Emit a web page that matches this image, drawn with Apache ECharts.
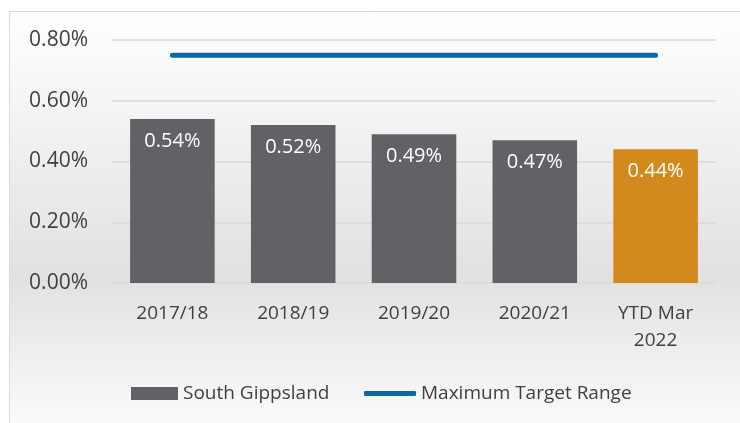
<!DOCTYPE html>
<html>
<head>
<meta charset="utf-8">
<script src="https://cdn.jsdelivr.net/npm/echarts@6/dist/echarts.min.js"></script>
<style>
  html, body { margin: 0; padding: 0; background: #fff; }
  #chart { width: 740px; height: 423px; }
</style>
</head>
<body>
<div id="chart"></div>
<script>
  // categories + values (percent)
  const categories = ['2017/18', '2018/19', '2019/20', '2020/21', 'YTD Mar\n2022'];
  const regionValues = [0.54, 0.52, 0.49, 0.47, 0.44];
  const targetValues = [0.75, 0.75, 0.75, 0.75, 0.75];

  const font = '"Open Sans", "Noto Sans", sans-serif';
  const grey = '#616266';
  const orange = '#d4891c';
  const blue = '#0a6aa8';
  const txt = '#404040';

  const chart = echarts.init(document.getElementById('chart'));
  chart.setOption({
    animation: false,
    textStyle: { fontFamily: font },
    graphic: [
      {
        type: 'rect',
        z: -10,
        shape: { x: 9.5, y: 11.5, width: 740, height: 420 },
        style: {
          fill: new echarts.graphic.LinearGradient(0, 0, 0, 1, [
            { offset: 0, color: '#ffffff' },
            { offset: 0.63, color: '#e1e1e1' },
            { offset: 1, color: '#fcfcfc' }
          ]),
          stroke: '#d9d9d9',
          lineWidth: 1
        }
      }
    ],
    grid: { left: 112, right: 24, top: 40, bottom: 140 },
    legend: [
      {
        left: 131,
        top: 384,
        padding: 0,
        itemWidth: 47,
        itemHeight: 13,
        itemGap: 4,
        textStyle: { fontSize: 19, color: txt, fontFamily: font },
        data: [{ name: 'South Gippsland', icon: 'rect', itemStyle: { color: grey } }]
      },
      {
        left: 364,
        top: 384,
        padding: 0,
        itemWidth: 52,
        itemHeight: 5,
        textStyle: { fontSize: 19, color: txt, fontFamily: font },
        data: [{ name: 'Maximum Target Range', icon: 'roundRect', itemStyle: { color: blue } }]
      }
    ],
    xAxis: {
      type: 'category',
      data: categories,
      axisLine: { show: false },
      axisTick: { show: false },
      axisLabel: { color: txt, fontSize: 19, margin: 17, lineHeight: 27, fontFamily: font }
    },
    yAxis: {
      type: 'value',
      min: 0,
      max: 0.8,
      interval: 0.2,
      axisLine: { show: false },
      axisTick: { show: false },
      splitLine: { lineStyle: { color: '#d9d9d9', width: 1.5 } },
      axisLabel: {
        color: txt, fontSize: 21, margin: 24, fontFamily: font,
        formatter: v => v.toFixed(2) + '%'
      }
    },
    series: [
      {
        name: 'South Gippsland',
        type: 'bar',
        barWidth: '70%',
        data: regionValues.map((v, i) => ({
          value: v,
          itemStyle: { color: i === regionValues.length - 1 ? orange : grey }
        })),
        label: {
          show: true,
          position: 'insideTop',
          distance: 12,
          color: '#ffffff',
          fontSize: 20,
          fontFamily: font,
          formatter: p => p.value.toFixed(2) + '%'
        }
      },
      {
        name: 'Maximum Target Range',
        type: 'line',
        data: targetValues,
        symbol: 'none',
        lineStyle: { color: blue, width: 5, cap: 'round' },
        itemStyle: { color: blue }
      }
    ]
  });
</script>
</body>
</html>
